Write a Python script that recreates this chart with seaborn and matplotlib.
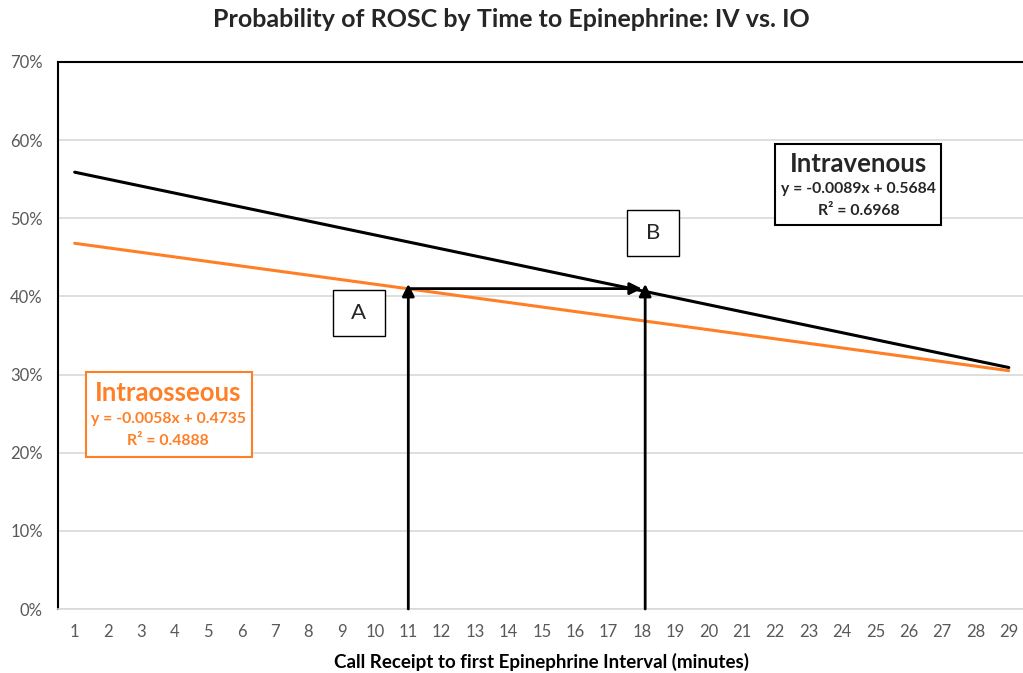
"""Probability of ROSC by time to epinephrine, IV vs IO trend lines."""

import numpy as np
import pandas as pd
import seaborn as sns
import matplotlib.pyplot as plt
from matplotlib.ticker import PercentFormatter

# Data
minutes = list(range(1, 30))
trend_x = [1, 29]
iv_trend = [0.559, 0.309]
io_trend = [0.468, 0.305]
arrow_a_x = 11
arrow_b_x = 18.1
arrow_y = 0.41

# -----------------------------------------------------------------------------

sns.set_theme(style='white')
plt.rcParams['font.family'] = ['Lato', 'DejaVu Sans']

df = pd.DataFrame({
    'minute': trend_x * 2,
    'prob': iv_trend + io_trend,
    'route': ['Intravenous'] * 2 + ['Intraosseous'] * 2,
})

io_color = '#ff7f27'

fig = plt.figure(figsize=(10.23, 6.73), dpi=100)
ax = fig.add_axes([58 / 1023, 1 - 609 / 673, 967.5 / 1023, 547 / 673])

sns.lineplot(data=df, x='minute', y='prob', hue='route',
             palette={'Intravenous': 'black', 'Intraosseous': io_color},
             linewidth=2.2, legend=False, ax=ax, zorder=3)

ax.set_xlim(0.5, 29.5)
ax.set_ylim(0, 0.7)
ax.set_xticks(minutes)
ax.set_xticklabels([str(m) for m in minutes])
ax.set_yticks(np.arange(0, 0.71, 0.1))
ax.yaxis.set_major_formatter(PercentFormatter(1.0, decimals=0))
ax.tick_params(axis='both', colors='#595959', labelsize=12, length=0, pad=11)
ax.grid(axis='y', color='#d9d9d9', linewidth=1.2)
ax.set_axisbelow(True)
for side in ['left', 'top', 'right']:
    ax.spines[side].set_color('black')
    ax.spines[side].set_linewidth(1.5)
ax.spines['bottom'].set_color('#d9d9d9')
ax.spines['bottom'].set_linewidth(1.2)

ax.set_xlabel('Call Receipt to first Epinephrine Interval (minutes)',
              fontsize=13.5, fontweight='bold', color='black', labelpad=9)
ax.set_ylabel('')
fig.suptitle('Probability of ROSC by Time to Epinephrine: IV vs. IO',
             fontsize=18, fontweight='bold', y=0.988)

# Arrows
arrow_style = dict(arrowstyle='-|>', color='black', lw=2, mutation_scale=18,
                   shrinkA=0, shrinkB=0)
ax.annotate('', xy=(arrow_a_x, arrow_y + 0.006), xytext=(arrow_a_x, 0),
            arrowprops=arrow_style, zorder=4)
ax.annotate('', xy=(arrow_b_x, arrow_y + 0.006), xytext=(arrow_b_x, 0),
            arrowprops=arrow_style, zorder=4)
ax.annotate('', xy=(arrow_b_x - 0.1, arrow_y), xytext=(arrow_a_x, arrow_y),
            arrowprops=arrow_style, zorder=4)

# Point labels
for label, cx, cy in [('A', 9.51, 0.379), ('B', 18.33, 0.481)]:
    ax.add_patch(plt.Rectangle((cx - 0.78, cy - 0.0295), 1.56, 0.059,
                               facecolor='white', edgecolor='black', lw=1, zorder=5))
    ax.text(cx, cy, label, fontsize=16, ha='center', va='center', zorder=6)

# Trend line boxes
ax.add_patch(plt.Rectangle((22.0, 0.492), 4.98, 0.103, facecolor='white',
                           edgecolor='black', lw=1.5, zorder=5))
ax.text(24.5, 0.570, 'Intravenous', fontsize=18.5, fontweight='bold',
        ha='center', va='center', zorder=6)
ax.text(24.5, 0.537, 'y = -0.0089x + 0.5684', fontsize=11.3, fontweight='bold',
        ha='center', va='center', zorder=6)
ax.text(24.5, 0.509, 'R² = 0.6968', fontsize=11.3, fontweight='bold',
        ha='center', va='center', zorder=6)

ax.add_patch(plt.Rectangle((1.33, 0.195), 4.98, 0.108, facecolor='white',
                           edgecolor=io_color, lw=1.5, zorder=5))
ax.text(3.8, 0.277, 'Intraosseous', fontsize=18.5, fontweight='bold',
        color=io_color, ha='center', va='center', zorder=6)
ax.text(3.8, 0.243, 'y = -0.0058x + 0.4735', fontsize=11.3, fontweight='bold',
        color=io_color, ha='center', va='center', zorder=6)
ax.text(3.8, 0.215, 'R² = 0.4888', fontsize=11.3, fontweight='bold',
        color=io_color, ha='center', va='center', zorder=6)

fig.savefig('out.png', dpi=100)
